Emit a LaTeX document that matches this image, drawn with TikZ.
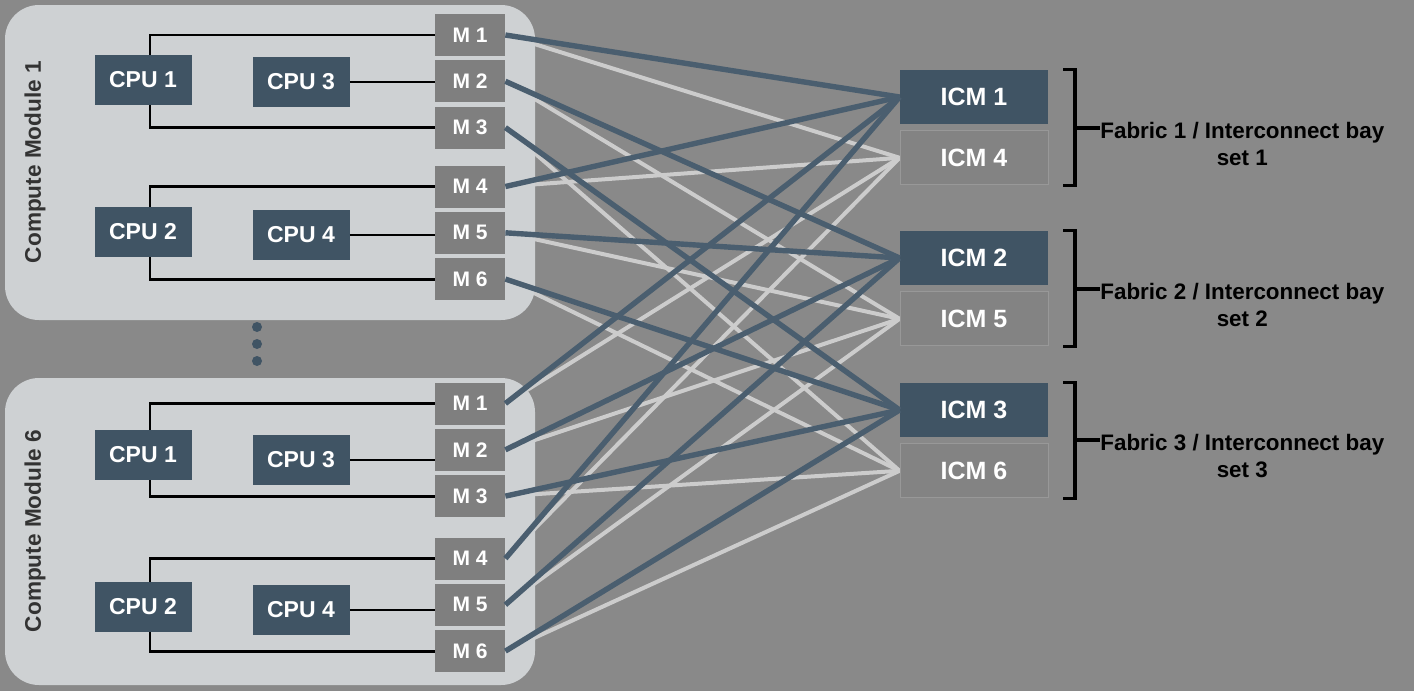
\documentclass[tikz,border=0pt]{standalone}
\usepackage{fontspec}
\setmainfont{Liberation Sans}
\usepackage{xcolor}
\usepackage{tikz}
\usetikzlibrary{positioning}
\definecolor{bggray}{RGB}{137, 137, 137}
\definecolor{modfill}{RGB}{206, 209, 211}
\definecolor{slate}{RGB}{64, 84, 100}
\definecolor{portgray}{RGB}{127, 127, 127}
\definecolor{icmgray}{RGB}{131, 131, 131}
\definecolor{icmedge}{RGB}{152, 152, 152}
\definecolor{wiredark}{RGB}{74, 94, 111}
\definecolor{wirelight}{RGB}{204, 204, 204}
\pgfdeclarelayer{backdrop}
\pgfdeclarelayer{wires}
\pgfsetlayers{backdrop,wires,main}

\begin{document}
\begin{tikzpicture}[
    x=0.5pt, y=-0.5pt,
    node distance=1.75pt,
    module/.style={rectangle, fill=modfill, rounded corners=17pt, minimum width=265pt},
    cpu/.style={rectangle, fill=slate, text=white, font=\fontsize{11.5}{13}\selectfont\bfseries, minimum width=48.5pt, minimum height=25pt, inner sep=0pt},
    port/.style={rectangle, fill=portgray, text=white, font=\fontsize{10.5}{12}\selectfont\bfseries, minimum width=35pt, minimum height=21pt, inner sep=0pt},
    icm/.style={rectangle, fill=slate, text=white, font=\fontsize{12.5}{14}\selectfont\bfseries, minimum width=74pt, minimum height=27pt, inner sep=0pt},
    icmb/.style={icm, fill=icmgray, draw=icmedge, line width=0.4pt},
    modlabel/.style={rotate=90, text=black!80, font=\fontsize{11.3}{13}\selectfont\bfseries},
    dotmark/.style={circle, fill=slate, minimum size=5pt, inner sep=0pt},
    bus/.style={draw=black, line width=1.4pt},
    darkwire/.style={draw=wiredark, line width=2.7pt},
    lightwire/.style={draw=wirelight, line width=2pt},
    bay/.style={draw=black, line width=1.6pt},
    baylabel/.style={align=center, inner sep=0pt, font=\fontsize{11.2}{13.5}\selectfont\bfseries}
]

\useasboundingbox (0,0) rectangle (1414,691);
\begin{pgfonlayer}{backdrop}
\fill[bggray] (0,0) rectangle (1414,691);
\end{pgfonlayer}

\node[module, minimum height=157.5pt] (cm1) at (270,162.5) {};
\node[module, minimum height=153.5pt] (cm6) at (270,531.5) {};
\node[modlabel] (cm1label) at (35,162) {Compute Module 1};
\node[modlabel] (cm6label) at (35,531) {Compute Module 6};

\node[cpu] (cpu11) at (143,80) {CPU 1};
\node[cpu] (cpu13) at (301,82) {CPU 3};
\node[cpu] (cpu12) at (143,232) {CPU 2};
\node[cpu] (cpu14) at (301,235) {CPU 4};
\node[cpu] (cpu61) at (143,455) {CPU 1};
\node[cpu] (cpu63) at (301,460) {CPU 3};
\node[cpu] (cpu62) at (143,607) {CPU 2};
\node[cpu] (cpu64) at (301,610) {CPU 4};

\node[port] (p11) at (470,35) {M 1};
\node[port, below=of p11] (p12) {M 2};
\node[port, below=of p12] (p13) {M 3};
\node[port] (p14) at (470,186.5) {M 4};
\node[port, below=of p14] (p15) {M 5};
\node[port, below=of p15] (p16) {M 6};
\node[port] (p61) at (470,403.5) {M 1};
\node[port, below=of p61] (p62) {M 2};
\node[port, below=of p62] (p63) {M 3};
\node[port] (p64) at (470,558.5) {M 4};
\node[port, below=of p64] (p65) {M 5};
\node[port, below=of p65] (p66) {M 6};

\node[dotmark] (dot1) at (257,327) {};
\node[dotmark] (dot2) at (257,344) {};
\node[dotmark] (dot3) at (257,361) {};

\draw[bus] ([xshift=3.5pt]cpu11.north) |- (p11.west);
\draw[bus] ([xshift=3.5pt]cpu11.south) |- (p13.west);
\draw[bus] (cpu13.east) -- (cpu13.east -| p12.west);
\draw[bus] ([xshift=3.5pt]cpu12.north) |- (p14.west);
\draw[bus] ([xshift=3.5pt]cpu12.south) |- (p16.west);
\draw[bus] (cpu14.east) -- (cpu14.east -| p15.west);
\draw[bus] ([xshift=3.5pt]cpu61.north) |- (p61.west);
\draw[bus] ([xshift=3.5pt]cpu61.south) |- (p63.west);
\draw[bus] (cpu63.east) -- (cpu63.east -| p62.west);
\draw[bus] ([xshift=3.5pt]cpu62.north) |- (p64.west);
\draw[bus] ([xshift=3.5pt]cpu62.south) |- (p66.west);
\draw[bus] (cpu64.east) -- (cpu64.east -| p65.west);

\node[icm] (icm1) at (974,97) {ICM 1};
\node[icmb, below=3pt of icm1] (icm4) {ICM 4};
\node[icm] (icm2) at (974,258) {ICM 2};
\node[icmb, below=3pt of icm2] (icm5) {ICM 5};
\node[icm] (icm3) at (974,410) {ICM 3};
\node[icmb, below=3pt of icm3] (icm6) {ICM 6};

\begin{pgfonlayer}{wires}
\draw[lightwire] (p11.east) -- (icm4.west);
\draw[lightwire] (p12.east) -- (icm5.west);
\draw[lightwire] (p13.east) -- (icm6.west);
\draw[lightwire] (p14.east) -- (icm4.west);
\draw[lightwire] (p15.east) -- (icm5.west);
\draw[lightwire] (p16.east) -- (icm6.west);
\draw[lightwire] (p61.east) -- (icm4.west);
\draw[lightwire] (p62.east) -- (icm5.west);
\draw[lightwire] (p63.east) -- (icm6.west);
\draw[lightwire] (p64.east) -- (icm4.west);
\draw[lightwire] (p65.east) -- (icm5.west);
\draw[lightwire] (p66.east) -- (icm6.west);
\end{pgfonlayer}

\draw[darkwire] (p11.east) -- (icm1.west);
\draw[darkwire] (p12.east) -- (icm2.west);
\draw[darkwire] (p13.east) -- (icm3.west);
\draw[darkwire] (p14.east) -- (icm1.west);
\draw[darkwire] (p15.east) -- (icm2.west);
\draw[darkwire] (p16.east) -- (icm3.west);
\draw[darkwire] (p61.east) -- (icm1.west);
\draw[darkwire] (p62.east) -- (icm2.west);
\draw[darkwire] (p63.east) -- (icm3.west);
\draw[darkwire] (p64.east) -- (icm1.west);
\draw[darkwire] (p65.east) -- (icm2.west);
\draw[darkwire] (p66.east) -- (icm3.west);

\coordinate (b1) at (1075,128);
\coordinate (b2) at (1075,289);
\coordinate (b3) at (1075,440);
\node[baylabel, anchor=base west] (fab1) at (1100,165) {Fabric 1 / Interconnect bay\\set 1};
\node[baylabel, anchor=base west] (fab2) at (1100,326) {Fabric 2 / Interconnect bay\\set 2};
\node[baylabel, anchor=base west] (fab3) at (1100,477) {Fabric 3 / Interconnect bay\\set 3};

\draw[bay] ([xshift=7.5pt]icm1.north east) -| (b1) |- ([xshift=7.5pt]icm4.south east);
\draw[bay] ([xshift=7.5pt]icm2.north east) -| (b2) |- ([xshift=7.5pt]icm5.south east);
\draw[bay] ([xshift=7.5pt]icm3.north east) -| (b3) |- ([xshift=7.5pt]icm6.south east);
\draw[bay] (b1) -- (b1 -| fab1.west);
\draw[bay] (b2) -- (b2 -| fab2.west);
\draw[bay] (b3) -- (b3 -| fab3.west);
\end{tikzpicture}
\end{document}
